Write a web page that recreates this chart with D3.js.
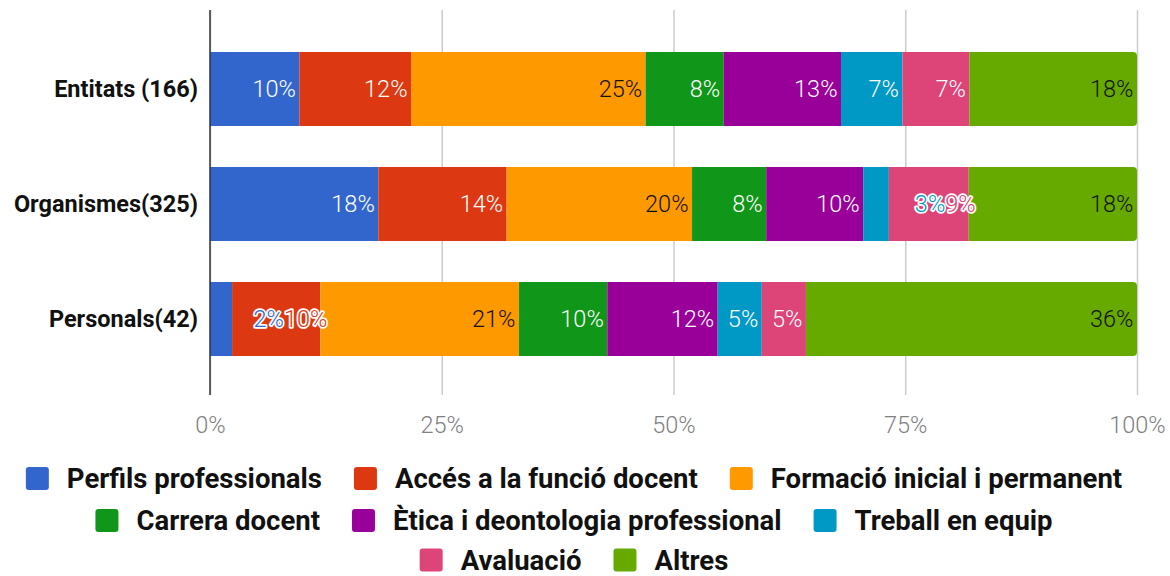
<!DOCTYPE html>
<html>
<head>
<meta charset="utf-8">
<script src="https://cdn.jsdelivr.net/npm/d3@7"></script>
<style>
  body { margin: 0; background: #fff; }
  text { font-family: Roboto, sans-serif; }
</style>
</head>
<body>
<svg id="chart"></svg>
<script>
// data
let groups = ['Entitats (166)', 'Organismes(325)', 'Personals(42)']
let themes = ['Perfils professionals', 'Accés a la funció docent', 'Formació inicial i permanent',
    'Carrera docent', 'Ètica i deontologia professional', 'Treball en equip', 'Avaluació', 'Altres']
let entitats = [16, 20, 42, 14, 21, 11, 12, 30]
let organismes = [59, 45, 65, 26, 34, 9, 28, 59]
let personals = [1, 4, 9, 4, 5, 2, 2, 15]
let tickValues = [0, 0.25, 0.5, 0.75, 1]
let legendRows = [3, 3, 2]

let colors = ['#3366cc', '#dc3912', '#ff9900', '#109618', '#990099', '#0099c6', '#dd4477', '#66aa00']
let darkLabel = [false, false, true, false, false, false, false, true]

function getConfig(){
    let width = 1170
    let height = 576
    let margin = { top: 10, bottom: 181, left: 210, right: 33 }
    let bodyHeight = height - margin.top - margin.bottom
    let bodyWidth = width - margin.left - margin.right
    let container = d3.select('#chart')
        .attr('width', width)
        .attr('height', height)
    return { width, height, margin, bodyHeight, bodyWidth, container }
}

function getScales(config){
    let { margin, bodyWidth } = config
    let xScale = d3.scaleLinear()
        .domain([0, 1])
        .range([margin.left, margin.left + bodyWidth])
    let yScale = d3.scaleBand()
        .domain(groups)
        .range([31.5, 376.5])
        .paddingInner(0.357)
        .paddingOuter(0.1785)
    return { xScale, yScale }
}

function drawAxes(scales, config){
    let { xScale, yScale } = scales
    let { container, margin, bodyHeight } = config
    let axisBottom = margin.top + bodyHeight

    let axisX = d3.axisBottom(xScale)
        .tickValues(tickValues)
        .tickFormat(d3.format('.0%'))
        .tickSize(-bodyHeight)
    let gx = container.append('g')
        .attr('transform', `translate(0,${axisBottom})`)
        .call(axisX)
    gx.select('.domain').remove()
    gx.selectAll('line').attr('stroke', '#cccccc').attr('stroke-width', 1.5)
    gx.selectAll('text')
        .attr('y', 38).attr('dy', 0)
        .attr('fill', '#808080')
        .style('font-size', '23.5px')
        .style('font-weight', 300)

    let axisY = d3.axisLeft(yScale).tickSize(0).tickPadding(12)
    let gy = container.append('g')
        .attr('transform', `translate(${margin.left},0)`)
        .call(axisY)
    gy.select('.domain').remove()
    gy.selectAll('text')
        .attr('fill', '#111')
        .attr('dy', '0.36em')
        .style('font-size', '23.5px')
        .style('font-weight', 'bold')
}

function roundedRight(x0, y, x1, h, r){
    r = Math.min(r, x1 - x0)
    return `M${x0},${y}H${x1 - r}Q${x1},${y} ${x1},${y + r}V${y + h - r}Q${x1},${y + h} ${x1 - r},${y + h}H${x0}Z`
}

function drawBars(scales, config){
    let { xScale, yScale } = scales
    let { container, margin, bodyHeight } = config
    let rows = [entitats, organismes, personals].map((vals, j) => {
        let row = { group: groups[j] }
        themes.forEach((t, i) => row[t] = vals[i])
        return row
    })
    let series = d3.stack().keys(themes).offset(d3.stackOffsetExpand)(rows)

    let body = container.append('g')
    series.forEach((s, i) => {
        let last = i === series.length - 1
        body.selectAll(null)
            .data(s)
            .join('path')
            .attr('fill', colors[i])
            .attr('d', d => roundedRight(xScale(d[0]), yScale(d.data.group), xScale(d[1]),
                yScale.bandwidth(), last ? 4 : 0))
    })

    // zero axis line
    container.append('line')
        .attr('x1', xScale(0)).attr('x2', xScale(0))
        .attr('y1', margin.top).attr('y2', margin.top + bodyHeight)
        .attr('stroke', '#333').attr('stroke-width', 1.5)

    // value labels
    let labels = container.append('g')
        .style('font-size', '23.5px')
        .style('font-weight', 300)
    groups.forEach(g => {
        let cy = yScale(g) + yScale.bandwidth() / 2
        let segs = series.map((s, i) => {
            let d = s.find(e => e.data.group === g)
            let t = labels.append('text')
                .attr('y', cy).attr('dy', '0.35em')
                .attr('text-anchor', 'end')
                .text(Math.round((d[1] - d[0]) * 100) + '%')
            return { i, x0: xScale(d[0]), x1: xScale(d[1]), t, w: t.node().getComputedTextLength(), halo: false, right: xScale(d[1]) - 3.5 }
        })
        // labels that do not fit get pushed next to the following one, with a halo
        segs.forEach((s, k) => {
            if (s.w + 6 > s.x1 - s.x0 && k < segs.length - 1) {
                let n = segs[k + 1]
                n.halo = true
                n.right = n.x1 + 7
                s.halo = true
                s.right = n.right - n.w
            }
        })
        segs.forEach(s => {
            s.t.attr('x', s.right)
            if (s.halo) {
                s.t.attr('fill', colors[s.i])
                    .attr('stroke', '#fff').attr('stroke-width', 3.5)
                    .attr('stroke-linejoin', 'round')
                    .style('paint-order', 'stroke')
            } else {
                s.t.attr('fill', darkLabel[s.i] ? '#111' : '#fff')
            }
        })
    })
}

function drawLegend(config){
    let { container } = config
    let rowY = [478.5, 520.5, 560]
    let centerX = 574
    let legend = container.append('g')
        .style('font-size', '27.5px')
        .style('font-weight', 'bold')
    let start = 0
    legendRows.forEach((count, r) => {
        let items = d3.range(start, start + count)
        start += count
        let g = legend.append('g')
        let x = 0
        items.forEach(i => {
            g.append('rect')
                .attr('x', x).attr('y', rowY[r] - 11.5)
                .attr('width', 23).attr('height', 23)
                .attr('rx', 3)
                .attr('fill', colors[i])
            let t = g.append('text')
                .attr('x', x + 41).attr('y', rowY[r])
                .attr('dy', '0.35em')
                .attr('fill', '#111')
                .text(themes[i])
            x += 41 + t.node().getComputedTextLength() + 32
        })
        let total = x - 32
        g.attr('transform', `translate(${centerX - total / 2},0)`)
    })
}

let config = getConfig()
let scales = getScales(config)
drawAxes(scales, config)
drawBars(scales, config)
drawLegend(config)
</script>
</body>
</html>
